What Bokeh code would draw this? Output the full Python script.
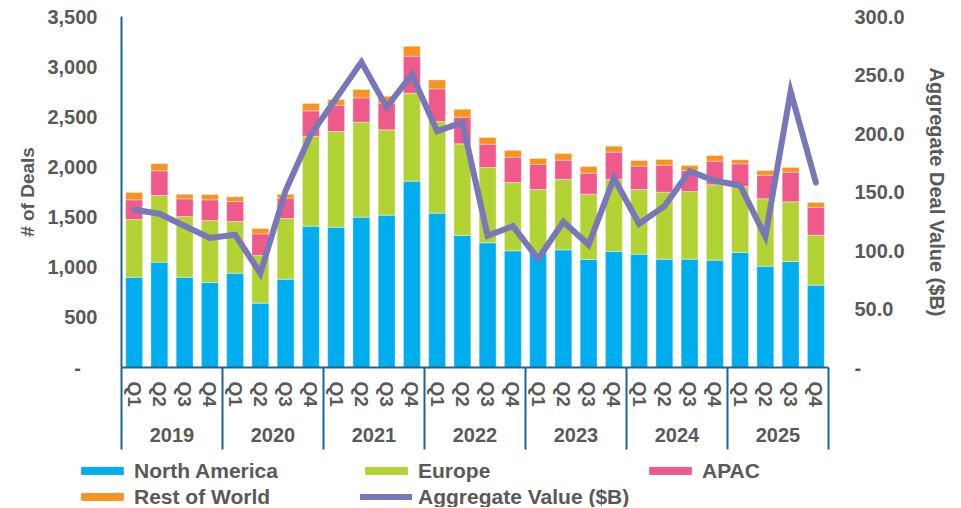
import numpy as np
from bokeh.plotting import figure
from bokeh.layouts import column
from bokeh.models import (Range1d, LinearAxis, FixedTicker, CustomJSTickFormatter,
                          Legend, LegendItem, ColumnDataSource)
from bokeh.embed import file_html
from bokeh.resources import INLINE

years = ["2019", "2020", "2021", "2022", "2023", "2024", "2025"]
quarters = ["Q1", "Q2", "Q3", "Q4"]

north_america = [900, 1050, 900, 847, 940, 641, 880, 1409, 1399, 1499, 1519, 1858,
                 1539, 1316, 1243, 1163, 1143, 1173, 1077, 1157, 1130, 1080, 1080, 1070,
                 1147, 1010, 1057, 821]
europe = [575, 665, 605, 619, 516, 476, 606, 897, 954, 947, 851, 877,
          914, 914, 751, 681, 632, 704, 651, 720, 645, 668, 675, 752,
          658, 672, 595, 498]
apac = [197, 246, 177, 206, 199, 216, 202, 253, 262, 243, 265, 369,
        326, 266, 232, 253, 249, 190, 209, 270, 232, 269, 209, 235,
        226, 235, 295, 279]
rest_of_world = [73, 70, 46, 53, 47, 53, 40, 73, 57, 83, 70, 100,
                 89, 79, 67, 66, 60, 67, 67, 60, 57, 57, 50, 57,
                 40, 47, 47, 47]
aggregate_value = [134.8, 131.4, 121.0, 110.8, 113.4, 80.6, 151.3, 199.1, 230.0, 261.0, 222.5, 250.4,
                   202.0, 209.4, 112.6, 120.8, 92.9, 124.5, 104.9, 161.8, 122.8, 137.9, 167.8, 159.6,
                   155.6, 112.0, 235.9, 158.1]

deal_ticks = [0, 500, 1000, 1500, 2000, 2500, 3000, 3500]
value_ticks = [0, 50, 100, 150, 200, 250, 300]

FONT = "Liberation Sans"
TXT = "#595959"
AXC = "#1F6391"
series_names = ["North America", "Europe", "APAC", "Rest of World"]
series_colors = ["#00AEEF", "#B3D234", "#EF5A8A", "#F7941E"]
line_name = "Aggregate Value ($B)"
line_color = "#7878B8"

labels = [(y, q) for y in years for q in quarters]
n = len(labels)
xpos = [i + 0.5 for i in range(n)]

src = ColumnDataSource(dict(x=xpos, na=north_america, eu=europe, ap=apac, rw=rest_of_world,
                            val=aggregate_value))

W = 950
p = figure(width=W, height=458, output_backend="svg", toolbar_location=None,
           x_range=Range1d(0, n), y_range=Range1d(0, 3500),
           min_border_left=121, min_border_right=121, min_border_top=16, min_border_bottom=91)
p.outline_line_color = None
p.xgrid.visible = False
p.ygrid.visible = False
p.background_fill_color = "white"
p.border_fill_color = "white"

p.extra_y_ranges = {"val": Range1d(0, 300)}

bars = p.vbar_stack(["na", "eu", "ap", "rw"], x="x", width=0.67, source=src,
                    color=series_colors, line_color="white", line_width=0.6, line_alpha=0.6)
ln = p.line("x", "val", source=src, y_range_name="val", line_width=6, color=line_color,
            line_join="miter", line_cap="round")


def style_axis(ax):
    ax.major_label_text_font = FONT
    ax.major_label_text_font_style = "bold"
    ax.major_label_text_color = TXT
    ax.major_label_text_font_size = "20px"
    ax.axis_label_text_font = FONT
    ax.axis_label_text_font_style = "bold"
    ax.axis_label_text_color = TXT
    ax.major_tick_line_color = None
    ax.minor_tick_line_color = None
    ax.major_tick_out = 0
    ax.major_tick_in = 0
    ax.minor_tick_out = 0
    ax.minor_tick_in = 0


# left axis
ya = p.yaxis[0]
ya.ticker = FixedTicker(ticks=deal_ticks)
ya.formatter = CustomJSTickFormatter(code="return tick == 0 ? '-\u00a0\u00a0\u00a0' : tick.toLocaleString('en-US');")
ya.axis_label = "# of Deals"
style_axis(ya)
ya.axis_label_text_font_size = "19px"
ya.axis_line_color = AXC
ya.axis_line_width = 2
ya.major_label_standoff = 24
ya.axis_label_standoff = 6

# right axis
ra = LinearAxis(y_range_name="val", ticker=FixedTicker(ticks=value_ticks),
                formatter=CustomJSTickFormatter(code="return tick == 0 ? '-' : tick.toFixed(1);"),
                axis_label="Aggregate Deal Value ($B)")
style_axis(ra)
ra.axis_label_text_font_size = "20px"
ra.axis_line_color = None
ra.major_label_standoff = 26
ra.axis_label_standoff = 18
p.add_layout(ra, "right")

# bottom axis: quarters, with year separators drawn as outward minor ticks
xa = p.xaxis[0]
xa.ticker = FixedTicker(ticks=xpos, minor_ticks=[i for i in range(0, n + 1, 4)])
xa.formatter = CustomJSTickFormatter(args=dict(q=[l[1] for l in labels]),
                                     code="return q[Math.floor(tick)] || '';")
style_axis(xa)
xa.major_label_text_font_size = "19px"
xa.major_label_orientation = "vertical"
xa.major_label_standoff = 14
xa.axis_line_color = AXC
xa.axis_line_width = 2
xa.minor_tick_line_color = AXC
xa.minor_tick_line_width = 2
xa.minor_tick_out = 0
xa.minor_tick_in = -82

year_axis = LinearAxis(ticker=FixedTicker(ticks=[i * 4 + 2 for i in range(len(years))]),
                       formatter=CustomJSTickFormatter(args=dict(y=years),
                                                       code="return y[Math.floor(tick / 4)] || '';"))
style_axis(year_axis)
year_axis.axis_line_color = None
year_axis.major_label_standoff = 18
p.add_layout(year_axis, "below")

# legend strip underneath
lp = figure(width=W, height=49, output_backend="svg", toolbar_location=None,
            x_range=Range1d(0, 1), y_range=Range1d(0, 1), x_axis_type=None, y_axis_type=None,
            min_border_left=0, min_border_right=0, min_border_top=0, min_border_bottom=0)
if "frame_align" in lp.properties():
    lp.frame_align = False
lp.outline_line_color = None
lp.xgrid.visible = False
lp.ygrid.visible = False
lp.border_fill_color = "white"

empty = ColumnDataSource(dict(x=np.array([np.nan]), y=np.array([np.nan])))
leg_items = []
for name, col in zip(series_names, series_colors):
    r = lp.vbar(x="x", top="y", width=0.5, color=col, source=empty)
    leg_items.append(LegendItem(label=name, renderers=[r]))
rl = lp.line(x="x", y="y", line_width=6, color=line_color, line_cap="round", source=empty)
leg_items.append(LegendItem(label=line_name, renderers=[rl]))


def make_legend(items, loc):
    return Legend(items=items, orientation="horizontal", location=loc,
                  glyph_width=52, glyph_height=9, label_standoff=6, label_width=226,
                  label_height=25, spacing=0, padding=0, margin=0,
                  border_line_color=None, background_fill_alpha=0,
                  label_text_font=FONT, label_text_font_style="bold", label_text_color=TXT,
                  label_text_font_size="21px")


lp.add_layout(make_legend(leg_items[:3], (76, 24)), "center")
lp.add_layout(make_legend(leg_items[3:], (76, -2)), "center")

layout = column(p, lp, spacing=0)
open("out.html", "w").write(file_html(layout, INLINE))
